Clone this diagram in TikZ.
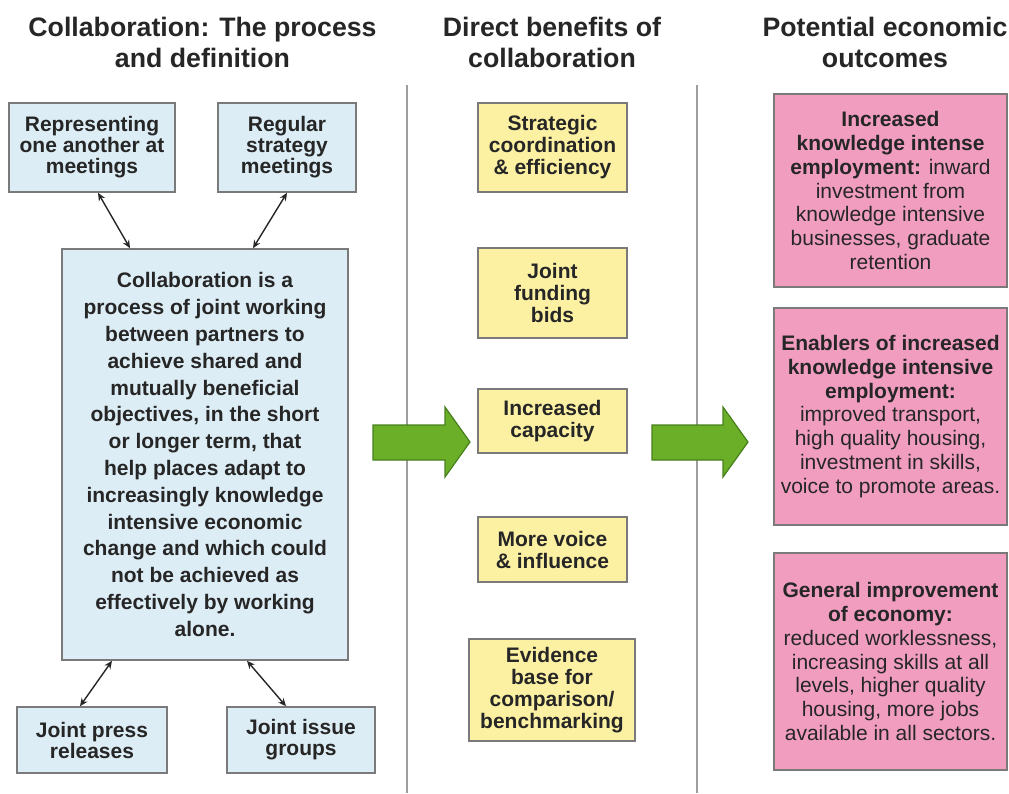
\documentclass[tikz,border=0pt]{standalone}
\usepackage{fontspec}
\setmainfont{Liberation Sans}
\usetikzlibrary{calc,arrows.meta}

\definecolor{boxblue}{HTML}{DDEDF5}
\definecolor{boxyellow}{HTML}{FCF1A3}
\definecolor{boxpink}{HTML}{F19DC0}
\definecolor{edgegray}{HTML}{7A7A7A}
\definecolor{arrowgreen}{HTML}{6BAE27}
\definecolor{arrowedge}{HTML}{46801C}
\definecolor{inkgray}{HTML}{262626}
\definecolor{rulegray}{HTML}{9E9E9E}

\begin{document}
\begin{tikzpicture}[x=1pt,y=-1pt,
  box/.style={draw=edgegray,line width=1.6pt,inner sep=0pt,align=center,text=inkgray},
  bluebox/.style={box,fill=boxblue,font=\bfseries\fontsize{21}{21}\selectfont},
  mainbox/.style={box,fill=boxblue,font=\bfseries\fontsize{21}{26.8}\selectfont},
  yellowbox/.style={box,fill=boxyellow,font=\bfseries\fontsize{21}{22}\selectfont},
  pinkbox/.style={box,fill=boxpink,font=\fontsize{21}{23.7}\selectfont},
  heading/.style={align=center,inner sep=0pt,text=inkgray,font=\bfseries\fontsize{26.7}{31}\selectfont},
  dbl/.style={{Stealth[length=8pt,width=7pt]}-{Stealth[length=8pt,width=7pt]},line width=1.4pt,draw=black!85},
  blockarrow/.style={fill=arrowgreen,draw=arrowedge,line width=1.2pt,line join=miter},
  divider/.style={draw=rulegray,line width=1.5pt}
]
\useasboundingbox (0,0) rectangle (1009,793);

% column headings
\node[heading] (h1) at (202.5,42.5) {Collaboration: The process\\and definition};
\node[heading] (h2) at (552,42.5) {Direct benefits of\\collaboration};
\node[heading] (h3) at (885,42.5) {Potential economic\\outcomes};

% column dividers
\draw[divider] (407,85) -- (407,793);
\draw[divider] (697,85) -- (697,793);

% process and definition
\node[bluebox,minimum width=166,minimum height=89] (rep) at (92,147.5)
  {Representing\\one another at\\meetings};
\node[bluebox,minimum width=138,minimum height=89] (reg) at (287,147.5)
  {Regular\\strategy\\meetings};
\node[mainbox,minimum width=286,minimum height=411] (main) at (205,454.5)
  {Collaboration is a\\process of joint working\\between partners to\\achieve shared and\\mutually beneficial\\objectives, in the short\\or longer term, that\\help places adapt to\\increasingly knowledge\\intensive economic\\change and which could\\not be achieved as\\effectively by working\\alone.};
\node[bluebox,minimum width=150,minimum height=66] (press) at (92,740)
  {Joint press\\releases};
\node[bluebox,minimum width=148,minimum height=66] (issue) at (301,740)
  {Joint issue\\groups};

\draw[dbl] ([xshift=6]rep.south) -- ([xshift=-75]main.north);
\draw[dbl] (reg.south) -- ([xshift=48]main.north);
\draw[dbl] ([xshift=-93]main.south) -- ([xshift=-12]press.north);
\draw[dbl] ([xshift=42]main.south) -- ([xshift=-15]issue.north);

% direct benefits
\node[yellowbox,minimum width=149,minimum height=89] (b1) at (552.5,147.5)
  {Strategic\\coordination\\\& efficiency};
\node[yellowbox,minimum width=149,minimum height=90] (b2) at (552.5,293)
  {Joint\\funding\\bids};
\node[yellowbox,minimum width=149,minimum height=64] (b3) at (552.5,421)
  {Increased\\capacity};
\node[yellowbox,minimum width=149,minimum height=65] (b4) at (552.5,549.5)
  {More voice\\\& influence};
\node[yellowbox,minimum width=166,minimum height=102] (b5) at (552,690)
  {Evidence\\base for\\comparison/\\benchmarking};

% economic outcomes
\node[pinkbox,minimum width=233,minimum height=193] (o1) at (890.5,190.5)
  {\textbf{Increased}\\\textbf{knowledge intense}\\\textbf{employment:} inward\\investment from\\knowledge intensive\\businesses, graduate\\retention};
\node[pinkbox,minimum width=233,minimum height=217] (o2) at (890.5,416.5)
  {\textbf{Enablers of increased}\\\textbf{knowledge intensive}\\\textbf{employment:}\\improved transport,\\high quality housing,\\investment in skills,\\voice to promote areas.};
\node[pinkbox,minimum width=233,minimum height=217] (o3) at (890.5,661.5)
  {\textbf{General improvement}\\\textbf{of economy:}\\reduced worklessness,\\increasing skills at all\\levels, higher quality\\housing, more jobs\\available in all sectors.};

% flow arrows between the columns
\draw[blockarrow] (373,425) -- (445,425) -- (445,407) -- (470,442)
  -- (445,477) -- (445,460) -- (373,460) -- cycle;
\draw[blockarrow] (652,425) -- (723,425) -- (723,407) -- (748,442)
  -- (723,477) -- (723,460) -- (652,460) -- cycle;
\end{tikzpicture}
\end{document}
